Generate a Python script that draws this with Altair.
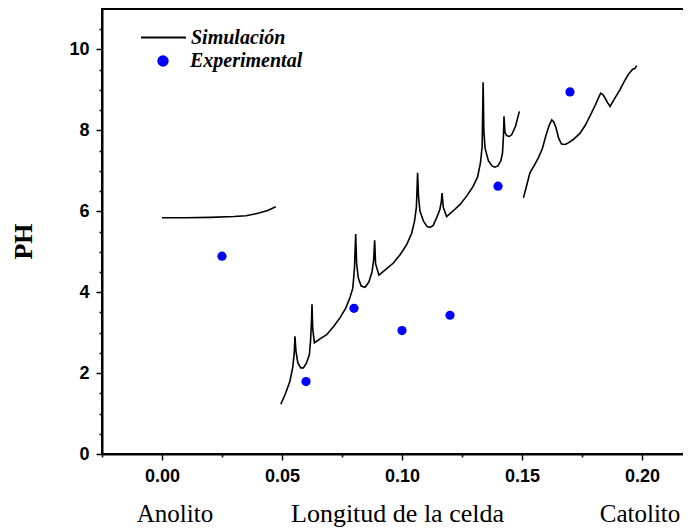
import altair as alt
import pandas as pd

# ---- data ----
seg1_x = [0.0, 0.01, 0.02, 0.03, 0.035, 0.04, 0.044, 0.0474]
seg1_y = [5.84, 5.84, 5.85, 5.87, 5.89, 5.95, 6.02, 6.11]

seg2_x = [0.0495, 0.0515, 0.0533, 0.0545, 0.0551, 0.0554, 0.0558, 0.0566, 0.0578, 0.0589,
          0.0602, 0.0614, 0.0619, 0.0623, 0.0625, 0.0628, 0.0635, 0.0660, 0.0686, 0.0715,
          0.0742, 0.0765, 0.0783, 0.0795, 0.0802, 0.0807, 0.0811, 0.0818, 0.0830, 0.0846,
          0.0862, 0.0875, 0.0882, 0.0886, 0.0890, 0.0904, 0.0930, 0.0964, 0.0995, 0.1020,
          0.1040, 0.1052, 0.1060, 0.1065, 0.1069, 0.1075, 0.1090, 0.1105, 0.1117, 0.1130,
          0.1145, 0.1158, 0.1164, 0.1167, 0.1172, 0.1186, 0.1215, 0.1242, 0.1270, 0.1297,
          0.1315, 0.1327, 0.1334, 0.1338, 0.1341, 0.1346, 0.1360, 0.1375, 0.1387, 0.1400,
          0.1412, 0.1419, 0.1423, 0.1425, 0.1429, 0.1436, 0.1447, 0.1457, 0.1473, 0.1489]
seg2_y = [1.23, 1.50, 1.80, 2.15, 2.50, 2.91, 2.55, 2.25, 2.13, 2.13,
          2.25, 2.45, 2.80, 3.30, 3.70, 3.10, 2.75, 2.85, 2.95, 3.15,
          3.37, 3.60, 3.86, 4.10, 4.60, 5.44, 4.70, 4.35, 4.15, 4.12,
          4.25, 4.50, 4.80, 5.28, 4.70, 4.42, 4.55, 4.72, 4.95, 5.18,
          5.45, 5.75, 6.10, 6.95, 6.35, 6.00, 5.75, 5.62, 5.60, 5.65,
          5.85, 6.05, 6.25, 6.45, 6.10, 5.87, 6.02, 6.17, 6.38, 6.62,
          6.85, 7.20, 7.60, 9.19, 8.00, 7.56, 7.25, 7.12, 7.09, 7.12,
          7.25, 7.45, 7.90, 8.35, 7.95, 7.87, 7.85, 7.89, 8.10, 8.47]

seg3_x = [0.1506, 0.1520, 0.1533, 0.1550, 0.1568, 0.1585, 0.1600, 0.1613, 0.1624, 0.1633,
          0.1642, 0.1653, 0.1665, 0.1680, 0.1693, 0.1715, 0.1742, 0.1763, 0.1783, 0.1805,
          0.1820, 0.1828, 0.1838, 0.1846, 0.1857, 0.1867, 0.1885, 0.1908, 0.1925, 0.1943,
          0.1961, 0.1970, 0.1978]
seg3_y = [6.33, 6.65, 6.95, 7.12, 7.32, 7.55, 7.88, 8.12, 8.26, 8.20,
          8.06, 7.80, 7.66, 7.65, 7.69, 7.78, 7.93, 8.12, 8.35, 8.62,
          8.82, 8.92, 8.88, 8.80, 8.68, 8.59, 8.78, 9.00, 9.20, 9.38,
          9.51, 9.53, 9.60]

exp_x = [0.025, 0.06, 0.08, 0.10, 0.12, 0.14, 0.17]
exp_y = [4.89, 1.79, 3.60, 3.05, 3.43, 6.62, 8.95]

x_major_ticks = [0.0, 0.05, 0.10, 0.15, 0.20]
x_minor_ticks = [-0.025, 0.025, 0.075, 0.125, 0.175]
y_major_ticks = [0, 2, 4, 6, 8, 10]
y_minor_ticks = [0.5, 1, 1.5, 2.5, 3, 3.5, 4.5, 5, 5.5, 6.5, 7, 7.5, 8.5, 9, 9.5, 10.5]
y_limits = [0, 11]

# ---- tables ----
rows = []
for s, (xs, ys) in enumerate([(seg1_x, seg1_y), (seg2_x, seg2_y), (seg3_x, seg3_y)]):
    for a, b in zip(xs, ys):
        rows.append({"x": a, "y": b, "seg": s, "serie": "Simulación"})
sim = pd.DataFrame(rows)
exp = pd.DataFrame({"x": exp_x, "y": exp_y, "serie": "Experimental"})
frame = pd.DataFrame({"y": y_limits})

# plot area runs past the right edge of the page (as in the reference); clipped by negative padding
W, H = 595, 445
PAD_R = -14
xscale = alt.Scale(domain=[-0.025, -0.025 + W / 2400.0], nice=False, zero=False)
yscale = alt.Scale(domain=y_limits, nice=False, zero=False)

common_axis = dict(grid=False, tickColor="black", domainColor="black", labelColor="black",
                   labelFont="Liberation Sans", labelFontWeight="bold", labelFontSize=18,
                   labelFlush=False, labelOverlap=False)

x_major = alt.Axis(orient="bottom", values=x_major_ticks, format=".2f", tickSize=6, tickWidth=1.5,
                   domainWidth=2, labelPadding=7,
                   title="Longitud de la celda", titleFont="Liberation Serif", titleFontSize=26,
                   titleFontWeight="normal", titleColor="black", titleX=295, titleY=67,
                   titleBaseline="alphabetic", titleAlign="center", **common_axis)
y_major = alt.Axis(orient="left", values=y_major_ticks, format="d", tickSize=6, tickWidth=1.5,
                   domainWidth=2, labelPadding=7,
                   title="PH", titleFont="Liberation Serif", titleFontSize=26,
                   titleFontWeight="bold", titleColor="black", titleX=-71, titleY=232,
                   titleBaseline="alphabetic", titleAlign="center", titleAngle=270, **common_axis)

x_minor = alt.Axis(orient="bottom", values=x_minor_ticks, tickSize=3, tickWidth=1.5, labels=False,
                   domain=False, grid=False, title=None, tickColor="black")
y_minor = alt.Axis(orient="left", values=y_minor_ticks, tickSize=3, tickWidth=1.5, labels=False,
                   domain=False, grid=False, title=None, tickColor="black")

legend_label = dict(labelFont="Liberation Serif", labelFontSize=20, labelFontWeight="bold",
                    labelFontStyle="italic", labelColor="black", title=None, padding=0)

line = alt.Chart(sim).mark_line(strokeWidth=1.6).encode(
    x=alt.X("x:Q", scale=xscale, axis=x_major),
    y=alt.Y("y:Q", scale=yscale, axis=y_major),
    detail="seg:N",
    color=alt.Color("serie:N", scale=alt.Scale(domain=["Simulación"], range=["black"]),
                    legend=alt.Legend(orient="none", legendX=38, legendY=5, symbolType="stroke",
                                      symbolSize=2025, symbolStrokeWidth=2, labelOffset=4,
                                      **legend_label)),
)

points = alt.Chart(exp).mark_circle(size=85, opacity=1).encode(
    x=alt.X("x:Q", scale=xscale, axis=None),
    y=alt.Y("y:Q", scale=yscale, axis=None),
    color=alt.Color("serie:N", scale=alt.Scale(domain=["Experimental"], range=["#0000ff"]),
                    legend=alt.Legend(orient="none", legendX=51, legendY=42, symbolType="circle",
                                      symbolSize=130, labelOffset=17, **legend_label)),
)

minor = alt.Chart(exp).mark_point(opacity=0).encode(
    x=alt.X("x:Q", scale=xscale, axis=x_minor),
    y=alt.Y("y:Q", scale=yscale, axis=y_minor),
)

# horizontal frame lines at the y limits (bottom and top of the box)
frame_rules = alt.Chart(frame).mark_rule(color="black", strokeWidth=2.2).encode(
    y=alt.Y("y:Q", scale=yscale, axis=None)
)

one = alt.Data(values=[{"a": 1}])
anolito = alt.Chart(one).mark_text(text="Anolito", font="Liberation Serif", fontSize=25,
                                   color="black", align="center", baseline="alphabetic").encode(
    x=alt.value(73), y=alt.value(513)
)
catolito = alt.Chart(one).mark_text(text="Catolito", font="Liberation Serif", fontSize=25,
                                    color="black", align="center", baseline="alphabetic").encode(
    x=alt.value(538), y=alt.value(513)
)

chart = alt.layer(line, points, minor, frame_rules, anolito, catolito).resolve_scale(
    color="independent"
).resolve_axis(
    x="independent", y="independent"
).properties(
    width=W, height=H,
    autosize=alt.AutoSizeParams(type="none"),
    padding={"left": 94, "top": 1, "right": PAD_R, "bottom": 78},
).configure_view(stroke="black", strokeWidth=2)

chart.save("out.html", embed_options={"renderer": "svg", "actions": False})
